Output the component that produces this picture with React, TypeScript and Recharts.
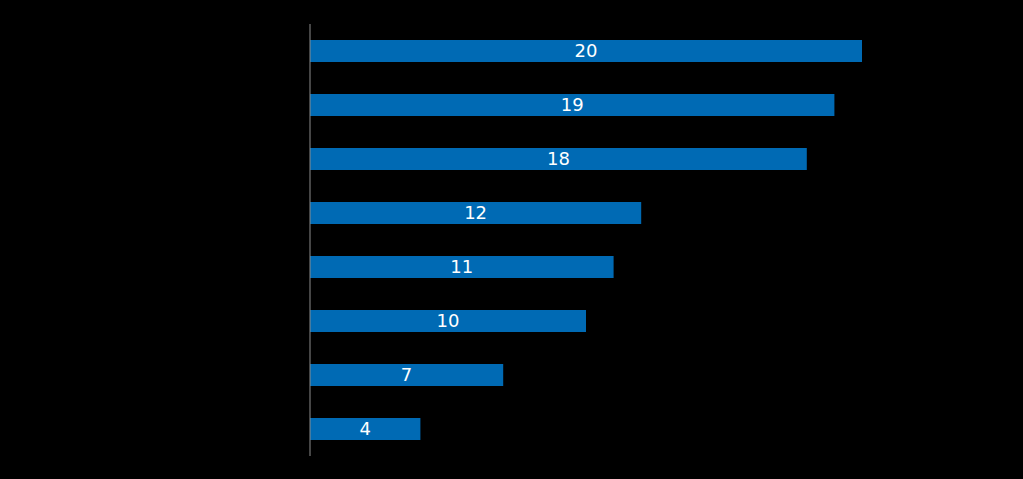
import React from "react";
import { BarChart, Bar, XAxis, YAxis, LabelList } from "recharts";

const categories = ["Category 1", "Category 2", "Category 3", "Category 4", "Category 5", "Category 6", "Category 7", "Category 8"];
const values = [20, 19, 18, 12, 11, 10, 7, 4];

const data = categories.map((name, i) => ({ name, value: values[i] }));

export default function App() {
  return (
    <div style={{ position: "fixed", left: 0, top: 0, width: 1023, height: 479, background: "#000" }}>
      <BarChart
        width={1023}
        height={479}
        data={data}
        layout="vertical"
        margin={{ top: 24, right: 161, bottom: 23, left: 0 }}
        barSize={22}
      >
        <XAxis type="number" domain={[0, 20]} hide />
        <YAxis
          type="category"
          dataKey="name"
          width={310}
          tick={false}
          tickLine={false}
          axisLine={{ stroke: "#8c8c8c", strokeWidth: 1 }}
        />
        <Bar dataKey="value" fill="#006AB4" isAnimationActive={false}>
          <LabelList
            dataKey="value"
            position="center"
            fill="#ffffff"
            style={{ fontFamily: "DejaVu Sans, Verdana, sans-serif", fontSize: 18 }}
          />
        </Bar>
      </BarChart>
    </div>
  );
}
